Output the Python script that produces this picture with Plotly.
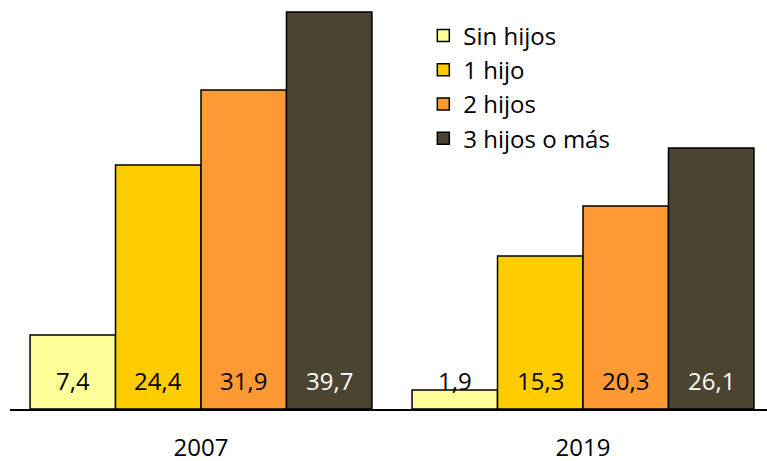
import plotly.graph_objects as go

# Data
years = ["2007", "2019"]
series_names = ["Sin hijos", "1 hijo", "2 hijos", "3 hijos o más"]
sin_hijos = [7.4, 1.9]
un_hijo = [24.4, 15.3]
dos_hijos = [31.9, 20.3]
tres_mas = [39.7, 26.1]

colors = ["#FFFF99", "#FFCC00", "#FF9933", "#4B4430"]
label_colors = ["black", "black", "black", "white"]
FONT = "'Open Sans', Lato, sans-serif"
BARGAP = 0.105

values = [sin_hijos, un_hijo, dos_hijos, tres_mas]

fig = go.Figure()
for name, vals, col in zip(series_names, values, colors):
    fig.add_trace(
        go.Bar(
            x=list(range(len(years))),
            y=vals,
            name=name,
            marker=dict(color=col, line=dict(color="black", width=1.5)),
            hoverinfo="skip",
        )
    )

# Value labels near the bottom of each bar (comma decimal)
n = len(values)
w = (1 - BARGAP) / n
for i, (vals, lc) in enumerate(zip(values, label_colors)):
    off = (i - (n - 1) / 2) * w
    for j, v in enumerate(vals):
        fig.add_annotation(
            x=j + off, y=0, xref="x", yref="y",
            text=f"{v:.1f}".replace(".", ","),
            showarrow=False, yanchor="middle", yshift=29,
            font=dict(family=FONT, size=24, color=lc),
        )

fig.update_layout(
    width=767, height=461,
    margin=dict(l=10, r=0, t=0, b=52),
    barmode="group", bargap=BARGAP, bargroupgap=0,
    plot_bgcolor="white", paper_bgcolor="white",
    font=dict(family=FONT, size=24, color="black"),
    showlegend=True,
    legend=dict(
        x=0.546, y=0.967, xanchor="left", yanchor="top",
        bgcolor="rgba(0,0,0,0)", font=dict(family=FONT, size=24),
        traceorder="normal", tracegroupgap=0,
    ),
    xaxis=dict(
        range=[-0.5, 1.4817], tickvals=list(range(len(years))), ticktext=years,
        showline=True, linecolor="black", linewidth=2, showgrid=False,
        zeroline=False, ticks="outside", ticklen=16, tickcolor="rgba(0,0,0,0)",
        tickfont=dict(family=FONT, size=24), automargin=False,
    ),
    yaxis=dict(range=[0, 40.9], visible=False, showgrid=False),
)

fig.write_html(
    "out.html",
    config={"displayModeBar": False},
    post_script="document.body.style.margin='0';",
)
